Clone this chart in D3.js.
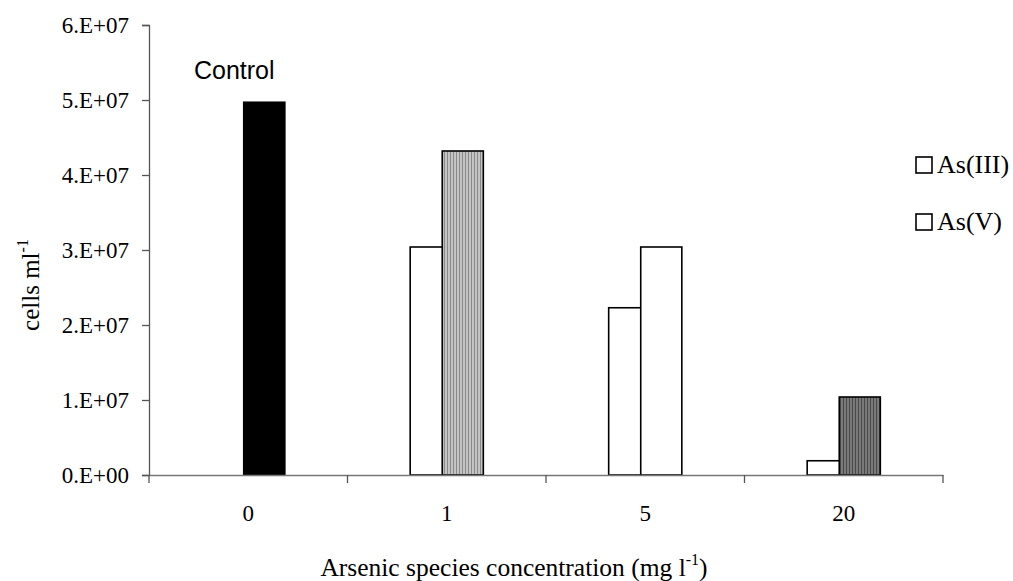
<!DOCTYPE html>
<html>
<head>
<meta charset="utf-8">
<script src="https://cdn.jsdelivr.net/npm/d3@7"></script>
<style>
  body { margin: 0; background: #fff; }
  svg text { fill: #000; }
</style>
</head>
<body>
<div id="chart"></div>
<script>
// data
var categories = ["0", "1", "5", "20"];
var asIII = [null, 3.04e7, 2.23e7, 0.19e7];
var asV = [4.97e7, 4.32e7, 3.04e7, 1.04e7];
var yTicks = [0, 1e7, 2e7, 3e7, 4e7, 5e7, 6e7];
var yTickLabels = ["0.E+00", "1.E+07", "2.E+07", "3.E+07", "4.E+07", "5.E+07", "6.E+07"];
var legendNames = ["As(III)", "As(V)"];

var serif = "'Liberation Serif', 'Times New Roman', serif";
var sans = "'Liberation Sans', Arial, sans-serif";

var width = 1013, height = 581;
var margin = {left: 149, right: 70, top: 25, bottom: 106};

var svg = d3.select("#chart").append("svg")
  .attr("width", width)
  .attr("height", height)
  .style("font-family", serif);

// stripe patterns for the As(V) bars
var defs = svg.append("defs");
function stripes(id, bg, fg) {
  var p = defs.append("pattern")
    .attr("id", id)
    .attr("patternUnits", "userSpaceOnUse")
    .attr("width", 3).attr("height", 10);
  p.append("rect").attr("width", 3).attr("height", 10).attr("fill", bg);
  p.append("rect").attr("x", 0).attr("width", 1).attr("height", 10).attr("fill", fg);
}
stripes("lightStripe", "#c4c4c4", "#8a8a8a");
stripes("darkStripe", "#7a7a7a", "#4a4a4a");

var asVFill = ["#000", "url(#lightStripe)", "#fff", "url(#darkStripe)"];

var x = d3.scaleBand()
  .domain(categories)
  .range([margin.left, width - margin.right])
  .padding(0);

var y = d3.scaleLinear()
  .domain([0, 6e7])
  .range([height - margin.bottom, margin.top]);

var barW = x.bandwidth() * 0.207;
var overlap = barW * 0.22;
var groupW = barW * 2 - overlap;

function barX(cat, s) {
  var c = x(cat) + x.bandwidth() / 2 - groupW / 2;
  return s == 0 ? c : c + barW - overlap;
}

// y axis
var yAxis = svg.append("g")
  .attr("transform", "translate(" + margin.left + ",0)")
  .call(d3.axisLeft(y).tickValues(yTicks).tickSize(7).tickPadding(13)
    .tickFormat(function(d, i) { return yTickLabels[i]; }));
yAxis.select(".domain").attr("stroke", "#555").attr("stroke-width", 1.3);
yAxis.selectAll(".tick line").attr("stroke", "#555").attr("stroke-width", 1.3);
yAxis.selectAll(".tick text")
  .attr("font-size", 23)
  .attr("font-family", serif)
  .attr("fill", "#000");

// bars: As(III) first, As(V) on top
svg.append("g").selectAll("rect")
  .data(categories.filter(function(d, i) { return asIII[i] != null; }))
  .enter().append("rect")
    .attr("x", function(d) { return barX(d, 0); })
    .attr("y", function(d) { return y(asIII[categories.indexOf(d)]); })
    .attr("width", barW)
    .attr("height", function(d) { return y(0) - y(asIII[categories.indexOf(d)]); })
    .attr("fill", "#fff")
    .attr("stroke", "#000")
    .attr("stroke-width", 1.6);

svg.append("g").selectAll("rect")
  .data(categories)
  .enter().append("rect")
    .attr("x", function(d) { return barX(d, 1); })
    .attr("y", function(d, i) { return y(asV[i]); })
    .attr("width", barW)
    .attr("height", function(d, i) { return y(0) - y(asV[i]); })
    .attr("fill", function(d, i) { return asVFill[i]; })
    .attr("stroke", "#000")
    .attr("stroke-width", 1.6);

// x axis
var xAxis = svg.append("g")
  .attr("transform", "translate(0," + y(0) + ")")
  .call(d3.axisBottom(x).tickSize(0).tickPadding(30));
xAxis.select(".domain").attr("stroke", "#777").attr("stroke-width", 1.3);
xAxis.selectAll(".tick text")
  .attr("font-size", 23)
  .attr("font-family", serif)
  .attr("fill", "#000");
// tick marks between categories
xAxis.selectAll(".sep")
  .data(categories.concat(["end"]))
  .enter().append("line")
    .attr("x1", function(d, i) { return i < categories.length ? x(d) : x(categories[i - 1]) + x.bandwidth(); })
    .attr("x2", function(d, i) { return i < categories.length ? x(d) : x(categories[i - 1]) + x.bandwidth(); })
    .attr("y1", 0).attr("y2", 8)
    .attr("stroke", "#555").attr("stroke-width", 1.3);

// Control label
svg.append("text")
  .attr("x", barX("0", 1) + barW / 2 - 30)
  .attr("y", y(asV[0]) - 23)
  .attr("text-anchor", "middle")
  .style("font-family", sans)
  .attr("font-size", 25)
  .text("Control");

// axis titles
var xt = svg.append("text")
  .attr("x", (margin.left + width - margin.right) / 2 - 32)
  .attr("y", 576)
  .attr("text-anchor", "middle")
  .attr("font-size", 25.5);
xt.append("tspan").text("Arsenic species concentration (mg l");
xt.append("tspan").attr("font-size", 16).attr("dy", -11).text("-1");
xt.append("tspan").attr("dy", 11).text(")");

var yt = svg.append("text")
  .attr("transform", "translate(39,285) rotate(-90)")
  .attr("text-anchor", "middle")
  .attr("font-size", 25);
yt.append("tspan").text("cells ml");
yt.append("tspan").attr("font-size", 16).attr("dy", -11).text("-1");

// legend
var legend = svg.append("g").selectAll("g")
  .data(legendNames)
  .enter().append("g")
    .attr("transform", function(d, i) { return "translate(916," + (157 + i * 57) + ")"; });
legend.append("rect")
  .attr("width", 16).attr("height", 16)
  .attr("fill", "#fff").attr("stroke", "#000").attr("stroke-width", 1.6);
legend.append("text")
  .attr("x", 21).attr("y", 16)
  .attr("font-size", 26)
  .text(function(d) { return d; });
</script>
</body>
</html>
